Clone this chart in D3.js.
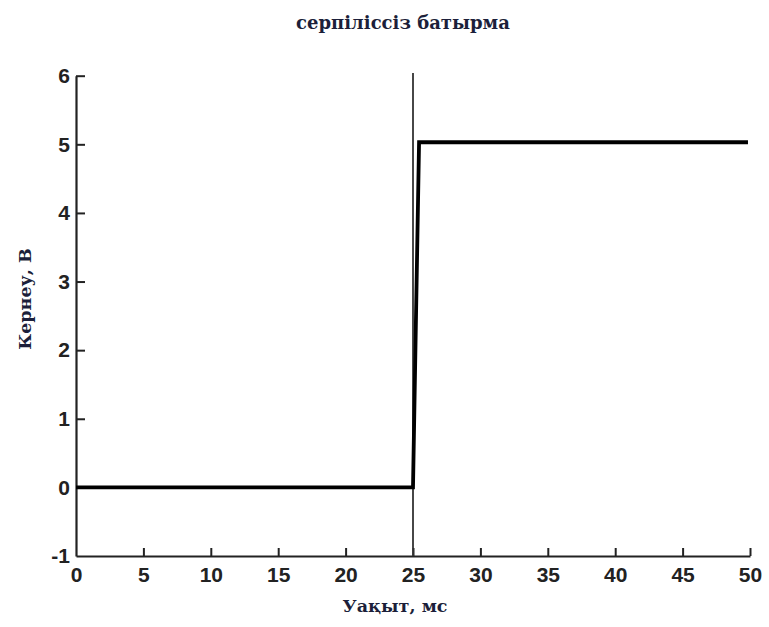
<!DOCTYPE html>
<html>
<head>
<meta charset="utf-8">
<script src="https://cdn.jsdelivr.net/npm/d3@7"></script>
<style>
  body { margin: 0; background: #fff; }
  svg { display: block; }
  .tick text { font-family: Arial, "Liberation Sans", sans-serif; font-size: 21px; font-weight: bold; fill: #222; }
  .lbl { font-family: "DejaVu Serif", serif; font-weight: bold; fill: #1c1f3a; }
</style>
</head>
<body>
<div id="chart"></div>
<script>
// Step response: time (ms) vs voltage (V)
const times = [0, 25, 25.45, 49.85];
const volts = [0, 0, 5.03, 5.03];
const markerTime = 25;
const xTicks = [0, 5, 10, 15, 20, 25, 30, 35, 40, 45, 50];
const yTicks = [-1, 0, 1, 2, 3, 4, 5, 6];

const width = 769, height = 627;
const svg = d3.select("#chart").append("svg")
  .attr("width", width).attr("height", height);

const x = d3.scaleLinear().domain([0, 50]).range([76, 750]);
const y = d3.scaleLinear().domain([-1, 6]).range([556, 75.7]);
const fmt = d => String(d).replace("−", "-");

// bottom axis, ticks pointing inward
const xAxis = svg.append("g")
  .attr("transform", `translate(0,${y(-1)})`)
  .call(d3.axisBottom(x).tickValues(xTicks).tickFormat(fmt).tickSizeInner(-8).tickSizeOuter(0).tickPadding(5));
xAxis.select(".domain").attr("stroke", "#222").attr("stroke-width", 2.2);
xAxis.selectAll(".tick line").attr("stroke", "#222").attr("stroke-width", 2)
  .filter(d => d === 0).remove();
xAxis.selectAll(".tick text").attr("dy", "0.71em").attr("y", 11);

// left axis, ticks pointing inward
const yAxis = svg.append("g")
  .attr("transform", `translate(${x(0)},0)`)
  .call(d3.axisLeft(y).tickValues(yTicks).tickFormat(fmt).tickSizeInner(-9).tickSizeOuter(0).tickPadding(6));
yAxis.select(".domain").attr("stroke", "#222").attr("stroke-width", 2.2);
yAxis.selectAll(".tick line").attr("stroke", "#222").attr("stroke-width", 2)
  .filter(d => d === -1 || d === 0).remove();

// vertical marker at 25 ms
svg.append("line")
  .attr("x1", x(markerTime)).attr("x2", x(markerTime))
  .attr("y1", y(6.04)).attr("y2", y(-1))
  .attr("stroke", "#333").attr("stroke-width", 1.8);

// signal
const line = d3.line().x((d, i) => x(times[i])).y(d => y(d));
svg.append("path")
  .datum(volts)
  .attr("d", line)
  .attr("fill", "none")
  .attr("stroke", "#000")
  .attr("stroke-width", 3.8)
  .attr("stroke-linejoin", "miter");

svg.append("text").attr("class", "lbl")
  .attr("x", 403).attr("y", 29)
  .attr("text-anchor", "middle").attr("font-size", 18)
  .text("серпіліссіз батырма");

svg.append("text").attr("class", "lbl")
  .attr("x", 395).attr("y", 612)
  .attr("text-anchor", "middle").attr("font-size", 17.5)
  .text("Уақыт, мс");

svg.append("text").attr("class", "lbl")
  .attr("transform", "translate(31,299) rotate(-90)")
  .attr("text-anchor", "middle").attr("font-size", 17.5)
  .text("Кернеу, В");
</script>
</body>
</html>
